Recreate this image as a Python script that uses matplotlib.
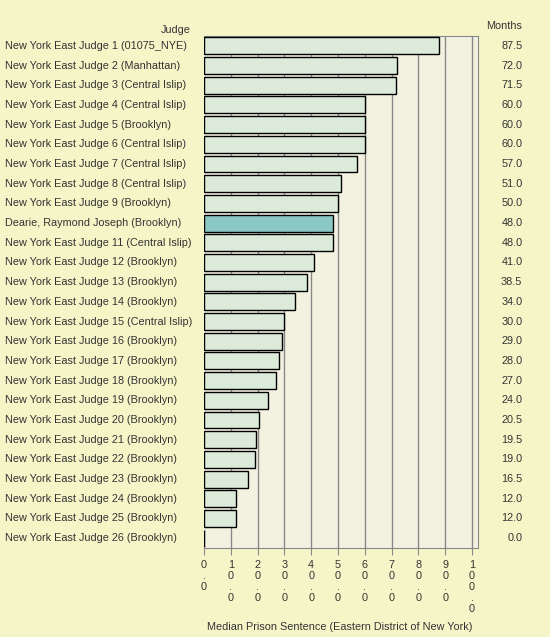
import matplotlib; matplotlib.use("Agg"); import matplotlib.pyplot as plt
plt.rcParams["font.family"] = ["Liberation Sans", "DejaVu Sans"]

judges = ["New York East Judge 1 (01075_NYE)", "New York East Judge 2 (Manhattan)",
          "New York East Judge 3 (Central Islip)", "New York East Judge 4 (Central Islip)",
          "New York East Judge 5 (Brooklyn)", "New York East Judge 6 (Central Islip)",
          "New York East Judge 7 (Central Islip)", "New York East Judge 8 (Central Islip)",
          "New York East Judge 9 (Brooklyn)", "Dearie, Raymond Joseph (Brooklyn)",
          "New York East Judge 11 (Central Islip)", "New York East Judge 12 (Brooklyn)",
          "New York East Judge 13 (Brooklyn)", "New York East Judge 14 (Brooklyn)",
          "New York East Judge 15 (Central Islip)", "New York East Judge 16 (Brooklyn)",
          "New York East Judge 17 (Brooklyn)", "New York East Judge 18 (Brooklyn)",
          "New York East Judge 19 (Brooklyn)", "New York East Judge 20 (Brooklyn)",
          "New York East Judge 21 (Brooklyn)", "New York East Judge 22 (Brooklyn)",
          "New York East Judge 23 (Brooklyn)", "New York East Judge 24 (Brooklyn)",
          "New York East Judge 25 (Brooklyn)", "New York East Judge 26 (Brooklyn)"]
months = [87.5, 72.0, 71.5, 60.0, 60.0, 60.0, 57.0, 51.0, 50.0, 48.0, 48.0, 41.0, 38.5,
          34.0, 30.0, 29.0, 28.0, 27.0, 24.0, 20.5, 19.5, 19.0, 16.5, 12.0, 12.0, 0.0]
highlight = "Dearie, Raymond Joseph (Brooklyn)"
xticks = [0, 10, 20, 30, 40, 50, 60, 70, 80, 90, 100]

W, H = 550, 637
fs = 7.8
fig = plt.figure(figsize=(5.5, 6.37), dpi=100, facecolor="#f5f5c8")
ax = fig.add_axes([204/W, 1-548/H, (478-204)/W, (548-36)/H])
ax.set_facecolor("#f3f2e1")
n = len(judges)
ys = list(range(n))
cols = ["#8cc8c4" if j == highlight else "#dcebd9" for j in judges]
ax.barh(ys, months, height=0.86, color=cols, edgecolor="black", linewidth=1.0, zorder=3)
ax.set_ylim(n-0.5, -0.5)
ax.set_xlim(0, 102.2)
ax.set_xticks(xticks)
ax.set_xticklabels(["\n".join(f"{t:.1f}") for t in xticks], fontsize=fs, color="#333333",
                   linespacing=1.1, va="top")
ax.tick_params(axis="x", length=5, color="#888888", pad=4)
ax.set_yticks([])
ax.grid(axis="x", color="#888888", linewidth=1, zorder=1)
for s in ["top", "right", "bottom"]:
    ax.spines[s].set_color("#888888")
ax.spines["left"].set_color("#ffffff")

for y, j, m in zip(ys, judges, months):
    ax.annotate(j, (0, y), xycoords=("figure fraction", "data"), xytext=(5/W, 0),
                textcoords=("figure fraction", "offset points"), ha="left", va="center",
                fontsize=fs, color="#333333", annotation_clip=False)
    ax.annotate(f"{m:.1f}", (1, y), xycoords=("axes fraction", "data"), xytext=(32, 0),
                textcoords="offset points", ha="right", va="center", fontsize=fs,
                color="#333333", annotation_clip=False)
fig.text(191/W, 1-30/H, "Judge", ha="right", va="center", fontsize=fs, color="#333333")
fig.text(522/W, 1-26/H, "Months", ha="right", va="center", fontsize=fs, color="#333333")
fig.text(340/W, 1-627/H, "Median Prison Sentence (Eastern District of New York)", ha="center",
         va="center", fontsize=fs, color="#333333")
fig.savefig("out.png", dpi=100, facecolor=fig.get_facecolor())
